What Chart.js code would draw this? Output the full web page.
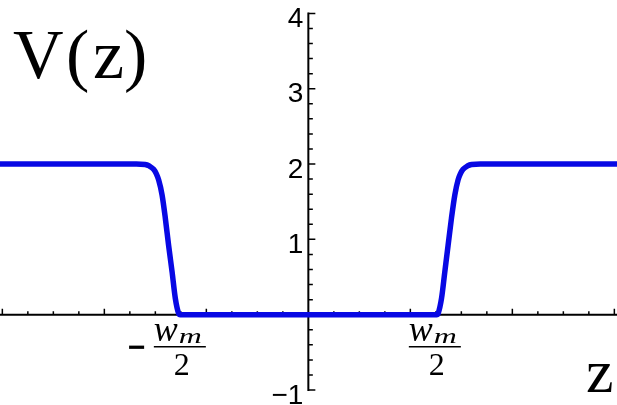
<!DOCTYPE html>
<html>
<head>
<meta charset="utf-8">
<script src="https://cdn.jsdelivr.net/npm/chart.js@4.4.1/dist/chart.umd.min.js"></script>
<style>
  html, body { margin: 0; padding: 0; background: #fff; }
  #chart-v { display: block; }
</style>
</head>
<body>
<canvas id="chart-v" width="617" height="405"></canvas>
<script>
// z positions (units of the major x tick) and V(z)
const zs = [-3.03, -1.686, -1.60, -1.56, -1.517, -1.49, -1.468, -1.434, -1.402, -1.370, -1.336, -1.304, -1.272, -1.255,
  0, 1.258, 1.273, 1.306, 1.338, 1.370, 1.403, 1.436, 1.468, 1.49, 1.517, 1.56, 1.60, 1.686, 3.03];
const vz = [2, 2, 1.995, 1.975, 1.93, 1.87, 1.79, 1.59, 1.28, 0.92, 0.57, 0.215, 0.02, 0,
  0, 0, 0.02, 0.22, 0.57, 0.92, 1.28, 1.59, 1.79, 1.87, 1.93, 1.975, 1.995, 2, 2];

const yTickValues = [-1, 1, 2, 3, 4];
const yTickLabels = ["\u22121", "1", "2", "3", "4"];
const xTickValues = [-1.25, 1.25];
const xTickSigns = ["\u2212", ""];

const xMin = -3.023, xMax = 3.026;
const yMin = -1.199, yMax = 4.178;

const points = zs.map((z, i) => ({ x: z, y: vz[i] }));

// ejes dibujados a mano: Mathematica pone los ticks hacia dentro
const axesPlugin = {
  id: "axesPlugin",
  beforeDatasetsDraw(chart) {
    const ctx = chart.ctx;
    const xs = chart.scales.x;
    const ys = chart.scales.y;
    const x0 = xs.getPixelForValue(0);
    const y0 = ys.getPixelForValue(0);
    ctx.save();
    ctx.strokeStyle = "#000";
    ctx.lineWidth = 2;
    ctx.beginPath();
    ctx.moveTo(chart.chartArea.left, y0);
    ctx.lineTo(chart.chartArea.right, y0);
    ctx.moveTo(x0, ys.getPixelForValue(4) - 1);
    ctx.lineTo(x0, ys.getPixelForValue(-1) + 1);
    ctx.stroke();

    ctx.lineWidth = 1.5;
    ctx.beginPath();
    for (let k = Math.ceil(xMin * 4); k <= Math.floor(xMax * 4); k++) {
      if (k === 0) continue;
      const px = xs.getPixelForValue(k / 4);
      const len = k % 4 === 0 ? 6 : 3.5;
      ctx.moveTo(px, y0);
      ctx.lineTo(px, y0 - len);
    }
    for (let k = -5; k <= 20; k++) {
      if (k === 0) continue;
      const py = ys.getPixelForValue(k / 5);
      const len = k % 5 === 0 ? 7 : 4.5;
      ctx.moveTo(x0, py);
      ctx.lineTo(x0 + len, py);
    }
    ctx.stroke();
    ctx.restore();
  },
  afterDraw(chart) {
    const ctx = chart.ctx;
    const xs = chart.scales.x;
    const ys = chart.scales.y;
    const x0 = xs.getPixelForValue(0);
    const y0 = ys.getPixelForValue(0);
    ctx.save();
    ctx.fillStyle = "#000";

    // y tick labels
    ctx.font = '28px "Liberation Sans", Arial, sans-serif';
    ctx.textAlign = "right";
    ctx.textBaseline = "alphabetic";
    yTickValues.forEach((v, i) => {
      ctx.fillText(yTickLabels[i], x0 - 5, ys.getPixelForValue(v) + 13.5);
    });

    // x tick labels: -w_m/2 and w_m/2
    xTickValues.forEach((v, i) => {
      const cx = xs.getPixelForValue(v) - 1;
      const barY = y0 + 32;
      ctx.strokeStyle = "#000";
      ctx.lineWidth = 1.5;
      ctx.beginPath();
      ctx.moveTo(cx - 26, barY);
      ctx.lineTo(cx + 26, barY);
      ctx.stroke();
      ctx.textAlign = "left";
      ctx.font = 'italic 36px "Liberation Serif", "Times New Roman", serif';
      ctx.fillText("w", cx - 26, barY - 6);
      ctx.save();
      ctx.translate(cx - 1, barY - 4);
      ctx.scale(1.45, 1);
      ctx.font = 'italic 22px "Liberation Serif", "Times New Roman", serif';
      ctx.fillText("m", 0, 0);
      ctx.restore();
      ctx.textAlign = "center";
      ctx.font = '32px "Liberation Serif", "Times New Roman", serif';
      ctx.fillText("2", cx + 2, barY + 28);
      if (xTickSigns[i]) {
        ctx.font = 'bold 30px "Liberation Sans", Arial, sans-serif';
        ctx.fillText(xTickSigns[i], cx - 43, barY + 10);
      }
    });

    // axis titles
    ctx.textAlign = "left";
    ctx.font = '70px "Liberation Serif", "Times New Roman", serif';
    ctx.fillText("V", 13, 78);
    ctx.fillText("(", 66, 78);
    ctx.fillText("z", 93, 78);
    ctx.fillText(")", 124, 78);
    ctx.font = '62px "Liberation Serif", "Times New Roman", serif';
    ctx.fillText("z", 586, 392);
    ctx.restore();
  }
};

new Chart(document.getElementById("chart-v").getContext("2d"), {
  type: "line",
  data: {
    datasets: [{
      label: "V(z)",
      data: points,
      borderColor: "rgb(8,8,228)",
      borderWidth: 5.5,
      pointRadius: 0,
      cubicInterpolationMode: "monotone",
      fill: false
    }]
  },
  options: {
    responsive: false,
    animation: false,
    layout: { padding: 0 },
    plugins: { legend: { display: false }, tooltip: { enabled: false } },
    scales: {
      x: { type: "linear", min: xMin, max: xMax, display: false },
      y: { type: "linear", min: yMin, max: yMax, display: false }
    }
  },
  plugins: [axesPlugin]
});
</script>
</body>
</html>
